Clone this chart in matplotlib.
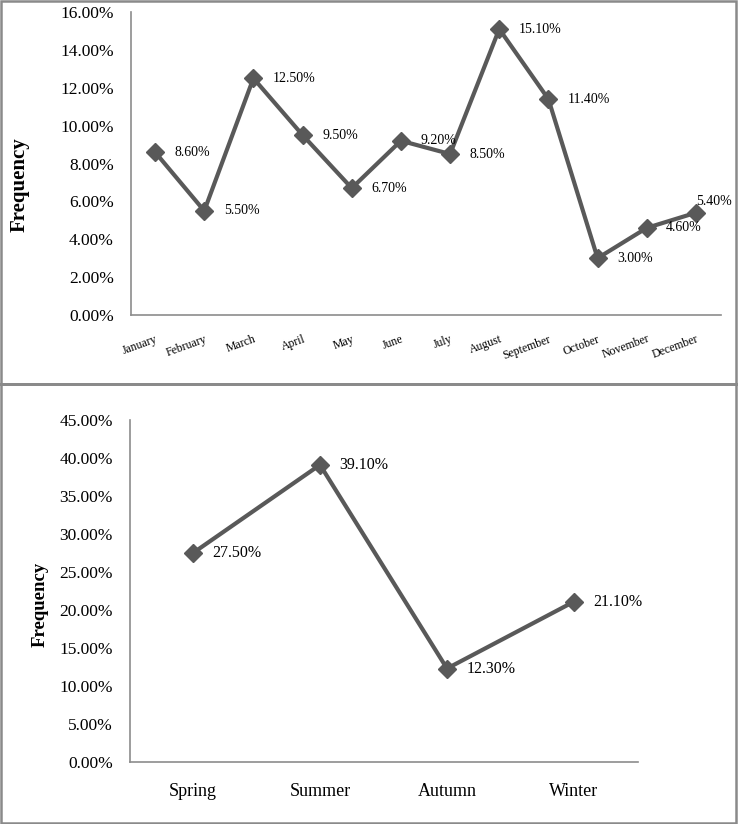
import matplotlib
matplotlib.use("Agg")
import matplotlib.pyplot as plt
from matplotlib.patches import Rectangle
from matplotlib.ticker import FuncFormatter, MultipleLocator

months = ["January", "February", "March", "April", "May", "June", "July",
          "August", "September", "October", "November", "December"]
month_freq = [8.6, 5.5, 12.5, 9.5, 6.7, 9.2, 8.5, 15.1, 11.4, 3.0, 4.6, 5.4]

seasons = ["Spring", "Summer", "Autumn", "Winter"]
season_freq = [27.5, 39.1, 12.3, 21.1]

plt.rcParams['font.family'] = ['Liberation Serif', 'DejaVu Serif']

LINE = '#595959'
AXC = '#8c8c8c'
W, H = 738, 824
fig = plt.figure(figsize=(W / 100, H / 100), dpi=100)

def fx(px):
    return px / W

def fy(py):
    return 1 - py / H

pct = FuncFormatter(lambda v, p: f"{v:.2f}%")

def style(ax):
    for s in ['top', 'right']:
        ax.spines[s].set_visible(False)
    for s in ['left', 'bottom']:
        ax.spines[s].set_color(AXC)
        ax.spines[s].set_linewidth(1.2)
    ax.tick_params(length=0)
    ax.yaxis.set_major_formatter(pct)

# ---- top panel: months
ax1 = fig.add_axes([fx(130.5), fy(315), fx(720.5) - fx(130.5), fy(12) - fy(315)])
x1 = list(range(len(months)))
ax1.plot(x1, month_freq, color=LINE, lw=3, marker='D', ms=9, zorder=3, clip_on=False)
ax1.set_xlim(-0.5, len(months) - 0.5)
ax1.set_ylim(0, 16)
ax1.yaxis.set_major_locator(MultipleLocator(2))
style(ax1)
ax1.tick_params(axis='y', labelsize=12.5, pad=12)
ax1.set_xticks(x1)
ax1.set_xticklabels(months, rotation=20, ha='right', rotation_mode='anchor', fontsize=8.5)
ax1.tick_params(axis='x', pad=13)
for i, (xv, yv) in enumerate(zip(x1, month_freq)):
    if i == len(months) - 1:
        off = (0, 8)
    else:
        off = (14, 0)
    ax1.annotate(f"{yv:.2f}%", (xv, yv), xytext=off, textcoords='offset points',
                 ha='left', va='center', fontsize=10, zorder=4)
fig.text(fx(20), fy(185), "Frequency", rotation=90, ha='center', va='center',
         fontsize=15, fontweight='bold')

# ---- bottom panel: seasons
ax2 = fig.add_axes([fx(129.5), fy(762), fx(637.5) - fx(129.5), fy(420) - fy(762)])
x2 = list(range(len(seasons)))
ax2.plot(x2, season_freq, color=LINE, lw=3, marker='D', ms=9, zorder=3, clip_on=False)
ax2.set_xlim(-0.5, len(seasons) - 0.5)
ax2.set_ylim(0, 45)
ax2.yaxis.set_major_locator(MultipleLocator(5))
style(ax2)
ax2.tick_params(axis='y', labelsize=12.5, pad=12)
ax2.set_xticks(x2)
ax2.set_xticklabels(seasons, fontsize=13)
ax2.tick_params(axis='x', pad=15)
for xv, yv in zip(x2, season_freq):
    ax2.annotate(f"{yv:.2f}%", (xv, yv), xytext=(14, 0), textcoords='offset points',
                 ha='left', va='center', fontsize=11.5, zorder=4)
fig.text(fx(40), fy(604), "Frequency", rotation=90, ha='center', va='center',
         fontsize=13.5, fontweight='bold')

# ---- panel borders
BC = '#8a8a8a'
fig.patches.append(Rectangle((fx(1), fy(823)), fx(736) - fx(1), fy(1) - fy(823),
                             transform=fig.transFigure, fill=False, edgecolor=BC, lw=1.8))
fig.patches.append(Rectangle((0, fy(386)), 1, fy(383) - fy(386),
                             transform=fig.transFigure, facecolor=BC, edgecolor='none'))

fig.savefig("out.png", dpi=100)
